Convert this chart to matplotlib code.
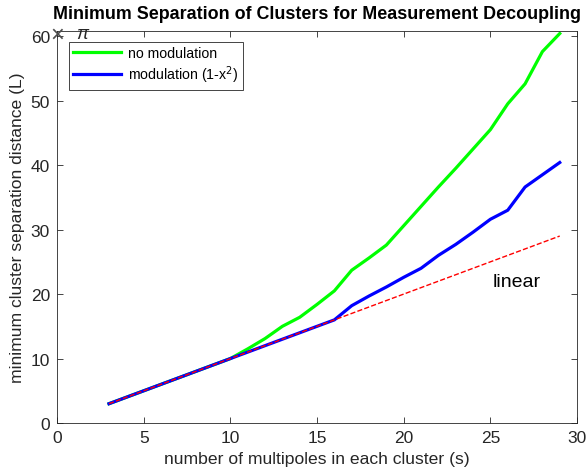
import numpy as np
import matplotlib.pyplot as plt

plt.rcParams['font.family'] = ['Liberation Sans', 'DejaVu Sans']

# data
s = np.arange(3, 30)
no_mod = [3, 4, 5, 6, 7, 8, 9, 10, 11.5, 13.1, 15.0, 16.4, 18.4, 20.5,
          23.7, 25.6, 27.6, 30.6, 33.6, 36.6, 39.5, 42.5, 45.5, 49.5,
          52.6, 57.6, 60.4]
mod_1mx2 = [3, 4, 5, 6, 7, 8, 9, 10, 11, 12, 13, 14, 15, 16,
            18.2, 19.7, 21.1, 22.6, 24.0, 26.0, 27.7, 29.6, 31.6, 33.0,
            36.6, 38.5, 40.4]
linear = s.astype(float)

fig = plt.figure(figsize=(5.87, 4.77), dpi=100)
ax = fig.add_axes([0.0971, 0.111, 0.886, 0.822])

ax.plot(s, no_mod, color=(0, 1, 0), lw=2.3, label='no modulation')
ax.plot(s, mod_1mx2, color=(0, 0, 1), lw=2.3, label='modulation (1-x$^2$)')
ax.plot(s, linear, 'r--', lw=1.0)

ax.text(25.1, 21.2, 'linear', fontsize=14)
ax.text(0, 0.99, '\u00d7', transform=ax.transAxes, ha='center', va='center',
        fontsize=17, color='0.3')
ax.text(0.048, 0.993, '\u03c0', transform=ax.transAxes, ha='center', va='center',
        fontsize=13, color='0.15', style='italic')

ax.set_xlim(0, 30)
ax.set_ylim(0, 60.8)
ax.set_xticks(np.arange(0, 31, 5))
ax.set_yticks(np.arange(0, 61, 10))
ax.tick_params(direction='in', top=True, right=True, length=4, width=0.6,
               colors='0.15', labelsize=12.5, labelcolor='0.15', pad=5)
for sp in ax.spines.values():
    sp.set_color('0.15')
    sp.set_linewidth(0.6)

ax.set_xlabel('number of multipoles in each cluster (s)', fontsize=12.6,
              color='0.15', labelpad=4)
ax.set_ylabel('minimum cluster separation distance (L)', fontsize=12.6,
              color='0.15', labelpad=4)
ax.set_title('Minimum Separation of Clusters for Measurement Decoupling',
             fontsize=12.9, fontweight='bold', pad=9)

leg = ax.legend(loc='upper left', bbox_to_anchor=(0.023, 0.972), borderaxespad=0,
                fontsize=10.2, fancybox=False, handlelength=3.4, borderpad=0.3,
                labelspacing=0.25, handletextpad=0.5, framealpha=1)
leg.get_frame().set_edgecolor('0.15')
leg.get_frame().set_linewidth(0.6)

fig.savefig('out.png', dpi=100)
